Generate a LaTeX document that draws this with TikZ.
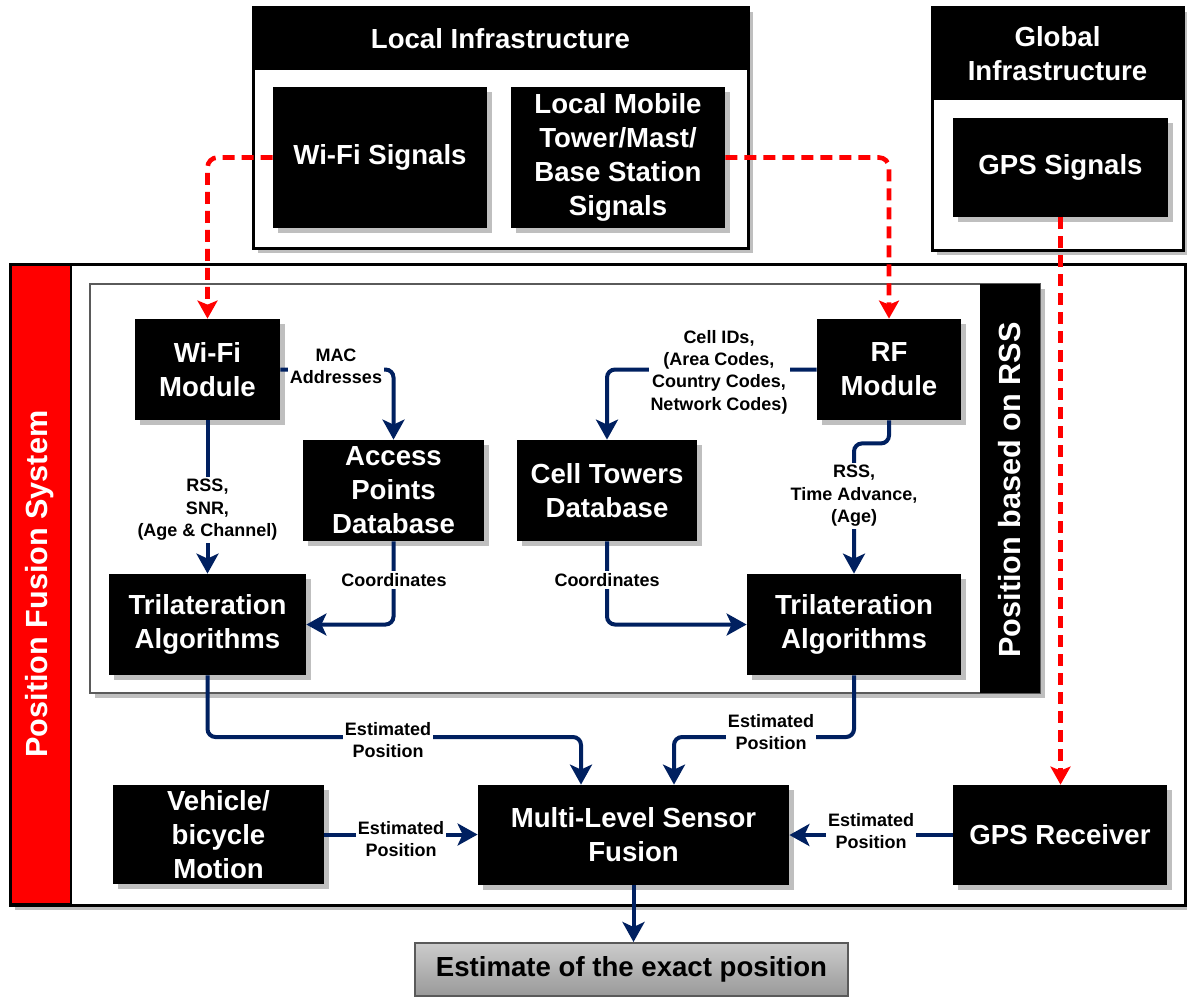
\documentclass[tikz,border=0pt]{standalone}
\usepackage{fontspec}
\setmainfont{Liberation Sans}
\usetikzlibrary{fit,shadows,arrows.meta}
\definecolor{navy}{RGB}{0,32,96}
\definecolor{frmgray}{RGB}{90,90,90}
\begin{document}
\begin{tikzpicture}[x=0.5pt,y=-0.5pt,
  shd/.style={drop shadow={shadow xshift=2.5pt,shadow yshift=-2.5pt,opacity=0.5}},
  blk/.style={fill=black, inner sep=0pt, text=white, align=center,
    font=\fontsize{13.8}{17}\selectfont\bfseries, shd},
  hdr/.style={fill=black, inner sep=0pt, text=white, align=center,
    font=\fontsize{13.8}{17}\selectfont\bfseries},
  frm/.style={draw=black, line width=1.5pt, fill=white, inner sep=0pt, shd},
  lbl/.style={fill=white, inner sep=1pt, align=center,
    font=\fontsize{9}{11.2}\selectfont\bfseries},
  conn/.style={draw=navy, line width=2pt, rounded corners=4pt,
    -{Stealth[length=10pt,width=11pt,inset=2.5pt]}},
  sig/.style={draw=red, line width=2.3pt, dash pattern=on 6pt off 3.5pt,
    rounded corners=5pt, -{Stealth[length=9pt,width=10pt,inset=2pt]}},
  vtxt/.style={text=white, rotate=90, font=\fontsize{15.3}{18}\selectfont\bfseries}
]
\useasboundingbox (0,0) rectangle (1187,998);

% ---- Local infrastructure
\node[frm, fit={(253,7)(748,248)}] (locfrm) {};
\node[hdr, fit={(253,7)(748,70)}] (lochdr) {};
\node (loctxt) at (lochdr.center) [text=white, font=\fontsize{13.8}{17}\selectfont\bfseries] {Local Infrastructure};
\node[blk, fit={(273,87)(487,228)}] (wifisig) {};
\node[text=white, align=center, font=\fontsize{13.8}{17}\selectfont\bfseries] (wifisigt) at (wifisig.center) {Wi-Fi Signals};
\node[blk, fit={(511,87)(725,228)}] (mobsig) {};
\node[text=white, align=center, font=\fontsize{13.8}{17}\selectfont\bfseries] (mobsigt) at (mobsig.center) {Local Mobile\\Tower/Mast/\\Base Station\\Signals};

% ---- Global infrastructure
\node[frm, fit={(932,7)(1183,250)}] (glbfrm) {};
\node[hdr, fit={(932,7)(1183,100)}] (glbhdr) {};
\node (glbtxt) at (glbhdr.center) [text=white, align=center, font=\fontsize{13.8}{17}\selectfont\bfseries] {Global\\Infrastructure};
\node[blk, fit={(953,118)(1168,217)}] (gpssig) {};
\node[text=white, font=\fontsize{13.8}{17}\selectfont\bfseries] (gpssigt) at (gpssig.center) {GPS Signals};

% ---- Position fusion system
\node[frm, fit={(10,264)(1185,905)}] (pfs) {};
\node[fit={(11,265)(71,904)}, fill=red, draw=black, line width=1.2pt, inner sep=0pt] (band) {};
\node[vtxt] (bandt) at (40,584) {Position Fusion System};

\node[fit={(90,284)(1040,693)}, draw=frmgray, line width=1.2pt, fill=white, inner sep=0pt, shd] (rss) {};
\node[fit={(980,284)(1040,693)}, fill=black, inner sep=0pt] (rssband) {};
\node[vtxt] (rssbandt) at (1010,490) {Position based on RSS};

% ---- inner boxes
\node[blk, fit={(135,319)(280,420)}] (wifimod) {};
\node[text=white, align=center, font=\fontsize{13.8}{17}\selectfont\bfseries] at (wifimod.center) (wifimodt) {Wi-Fi\\Module};
\node[blk, fit={(303,440)(484,541)}] (apdb) {};
\node[text=white, align=center, font=\fontsize{13.8}{17}\selectfont\bfseries] at (apdb.center) (apdbt) {Access\\Points\\Database};
\node[blk, fit={(517,440)(697,541)}] (ctdb) {};
\node[text=white, align=center, font=\fontsize{13.8}{17}\selectfont\bfseries] at (ctdb.center) (ctdbt) {Cell Towers\\Database};
\node[blk, fit={(817,319)(961,420)}] (rfmod) {};
\node[text=white, align=center, font=\fontsize{13.8}{17}\selectfont\bfseries] at (rfmod.center) (rfmodt) {RF\\Module};
\node[blk, fit={(109,574)(306,675)}] (tril1) {};
\node[text=white, align=center, font=\fontsize{13.8}{17}\selectfont\bfseries] at (tril1.center) (tril1t) {Trilateration\\Algorithms};
\node[blk, fit={(747,574)(961,675)}] (tril2) {};
\node[text=white, align=center, font=\fontsize{13.8}{17}\selectfont\bfseries] at (tril2.center) (tril2t) {Trilateration\\Algorithms};

\node[blk, fit={(113,785)(324,884)}] (vehicle) {};
\node[text=white, align=center, font=\fontsize{13.8}{17}\selectfont\bfseries] at (vehicle.center) (vehiclet) {Vehicle/\\bicycle\\Motion};
\node[blk, fit={(478,785)(789,885)}] (fusion) {};
\node[text=white, align=center, font=\fontsize{13.8}{17}\selectfont\bfseries] at (fusion.center) (fusiont) {Multi-Level Sensor\\Fusion};
\node[blk, fit={(953,785)(1167,885)}] (gpsrec) {};
\node[text=white, align=center, font=\fontsize{13.8}{17}\selectfont\bfseries] at (gpsrec.center) (gpsrect) {GPS Receiver};

\node[fit={(415,943)(848,996)}, inner sep=0pt, draw=frmgray, line width=1pt,
      top color=gray!40, bottom color=gray!80] (est) {};
\node[font=\fontsize{13.8}{17}\selectfont\bfseries] at (est.center) (estt) {Estimate of the exact position};

% ---- red dashed signal paths
\draw[sig] (wifisig.west) -| (wifimod.north);
\draw[sig] (mobsig.east) -| (rfmod.north);
\draw[sig] (gpssig.south) -- (gpssig.south |- gpsrec.north);

% ---- connectors
\coordinate (j1) at (581,737);
\coordinate (j2) at (674,737);
\draw[conn] (wifimod.east) -| (apdb.north);
\draw[conn] (wifimod.south) -- (tril1.north);
\draw[conn] (apdb.south) |- (tril1.east);
\draw[conn] (rfmod.west) -| (ctdb.north);
\draw[conn] (rfmod.south) -- ++(0,23) -| (tril2.north);
\draw[conn] (ctdb.south) |- (tril2.west);
\draw[conn] (tril1.south) |- (j1) -- (j1 |- fusion.north);
\draw[conn] (tril2.south) |- (j2) -- (j2 |- fusion.north);
\draw[conn] (vehicle.east) -- (vehicle.east -| fusion.west);
\draw[conn] (gpsrec.west) -- (gpsrec.west -| fusion.east);
\draw[conn] (fusion.south) -- (fusion.south |- est.north);

% ---- labels
\node[lbl] (l1) at (336,366) {MAC\\Addresses};
\node[lbl] (l2) at (207.5,510) {RSS,\\SNR,\\(Age \& Channel)};
\node[lbl] (l3) at (394,580) {Coordinates};
\node[lbl] (l4) at (719,372) {Cell IDs,\\(Area Codes,\\Country Codes,\\Network Codes)};
\node[lbl] (l5) at (854,496) {RSS,\\Time Advance,\\(Age)};
\node[lbl] (l6) at (607,580) {Coordinates};
\node[lbl] (l7) at (388,740) {Estimated\\Position};
\node[lbl] (l8) at (771,732) {Estimated\\Position};
\node[lbl] (l9) at (401,839) {Estimated\\Position};
\node[lbl] (l10) at (871,831) {Estimated\\Position};
\end{tikzpicture}
\end{document}
